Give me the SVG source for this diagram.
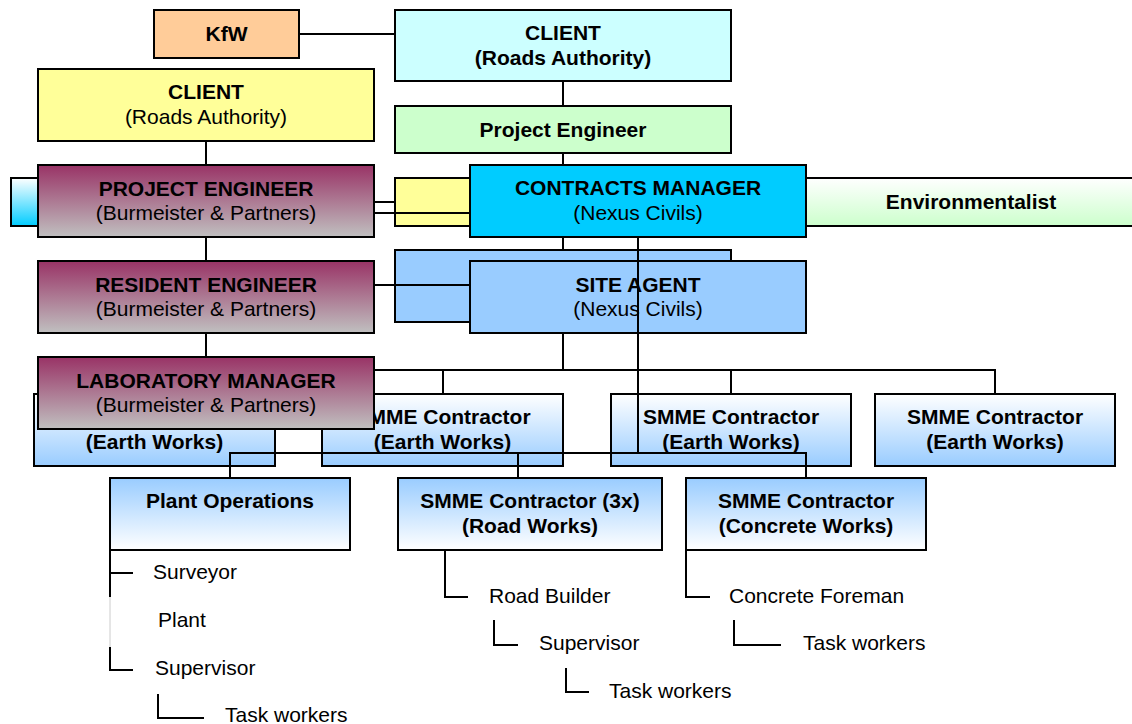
<svg xmlns="http://www.w3.org/2000/svg" width="1132" height="724" viewBox="0 0 1132 724">
<defs>
<linearGradient id="gBurm" x1="0" y1="0" x2="0" y2="1"><stop offset="0" stop-color="#993366"/><stop offset="1" stop-color="#C0C0C0"/></linearGradient>
<linearGradient id="gCyan" x1="0" y1="0" x2="0" y2="1"><stop offset="0" stop-color="#FFFFFF"/><stop offset="1" stop-color="#00CCFF"/></linearGradient>
<linearGradient id="gEnv" x1="0" y1="0" x2="0" y2="1"><stop offset="0" stop-color="#FFFFFF"/><stop offset="1" stop-color="#CCFFCC"/></linearGradient>
<linearGradient id="gSmme" x1="0" y1="0" x2="0" y2="1"><stop offset="0" stop-color="#FFFFFF"/><stop offset="1" stop-color="#99CCFF"/></linearGradient>
<linearGradient id="gSmmeRev" x1="0" y1="0" x2="0" y2="1"><stop offset="0" stop-color="#99CCFF"/><stop offset="1" stop-color="#FFFFFF"/></linearGradient>
</defs>
<style>
rect{stroke:#000;stroke-width:2}
text{font-family:"Liberation Sans",Arial,sans-serif;font-size:21px;fill:#000}
.b{font-weight:bold;text-anchor:middle}
.r{text-anchor:middle}
.l{text-anchor:start}
#connectors path{fill:none;stroke:#000;stroke-width:2}
</style>
<rect x="0" y="0" width="1132" height="724" fill="#fff" style="stroke:none"/>
<g id="left-stub"><rect x="11" y="178" width="40" height="48" fill="url(#gCyan)"/></g>
<g id="yellow-behind"><rect x="395" y="178" width="336" height="48" fill="#FFFF99"/></g>
<g id="environmentalist"><rect x="806" y="178" width="340" height="48" fill="url(#gEnv)"/><text class="b" x="971" y="209">Environmentalist</text></g>
<g id="contracts-manager"><rect x="470" y="165" width="336" height="72" fill="#00CCFF"/><text class="b" x="638" y="195">CONTRACTS MANAGER</text><text class="r" x="638" y="220">(Nexus Civils)</text></g>
<g id="kfw"><rect x="154" y="10" width="145" height="48" fill="#FFCC99"/><text class="b" x="226.5" y="41">KfW</text></g>
<g id="client-right"><rect x="395" y="10" width="336" height="71" fill="#CCFFFF"/><text class="b" x="563" y="40">CLIENT</text><text class="b" x="563" y="65">(Roads Authority)</text></g>
<g id="project-engineer-right"><rect x="395" y="106" width="336" height="47" fill="#CCFFCC"/><text class="b" x="563" y="137">Project Engineer</text></g>
<g id="client-left"><rect x="38" y="69" width="336" height="72" fill="#FFFF99"/><text class="b" x="206" y="99">CLIENT</text><text class="r" x="206" y="124">(Roads Authority)</text></g>
<g id="project-engineer"><rect x="38" y="165" width="336" height="72" fill="url(#gBurm)"/><text class="b" x="206" y="196">PROJECT ENGINEER</text><text class="r" x="206" y="220">(Burmeister &amp; Partners)</text></g>
<g id="blue-behind"><rect x="395" y="250" width="336" height="72" fill="#99CCFF"/></g>
<g id="site-agent"><rect x="470" y="261" width="336" height="72" fill="#99CCFF"/><text class="b" x="638" y="292">SITE AGENT</text><text class="r" x="638" y="316">(Nexus Civils)</text></g>
<g id="resident-engineer"><rect x="38" y="261" width="336" height="72" fill="url(#gBurm)"/><text class="b" x="206" y="292">RESIDENT ENGINEER</text><text class="r" x="206" y="316">(Burmeister &amp; Partners)</text></g>
<g id="smme-earth-1"><rect x="34" y="394" width="241" height="72" fill="url(#gSmme)"/><text class="b" x="154.5" y="449">(Earth Works)</text></g>
<g id="smme-earth-2"><rect x="322" y="394" width="241" height="72" fill="url(#gSmme)"/><text class="b" x="442.5" y="424">SMME Contractor</text><text class="b" x="442.5" y="449">(Earth Works)</text></g>
<g id="smme-earth-3"><rect x="611" y="394" width="240" height="72" fill="url(#gSmme)"/><text class="b" x="731" y="424">SMME Contractor</text><text class="b" x="731" y="449">(Earth Works)</text></g>
<g id="smme-earth-4"><rect x="875" y="394" width="240" height="72" fill="url(#gSmme)"/><text class="b" x="995" y="424">SMME Contractor</text><text class="b" x="995" y="449">(Earth Works)</text></g>
<g id="laboratory-manager"><rect x="38" y="357" width="336" height="72" fill="url(#gBurm)"/><text class="b" x="206" y="388">LABORATORY MANAGER</text><text class="r" x="206" y="412">(Burmeister &amp; Partners)</text></g>
<g id="plant-operations"><rect x="110" y="478" width="240" height="72" fill="url(#gSmmeRev)"/><text class="b" x="230" y="508">Plant Operations</text></g>
<g id="smme-road"><rect x="398" y="478" width="264" height="72" fill="url(#gSmmeRev)"/><text class="b" x="530" y="508">SMME Contractor (3x)</text><text class="b" x="530" y="533">(Road Works)</text></g>
<g id="smme-concrete"><rect x="686" y="478" width="240" height="72" fill="url(#gSmmeRev)"/><text class="b" x="806" y="508">SMME Contractor</text><text class="b" x="806" y="533">(Concrete Works)</text></g>
<g id="leaf-surveyor"><text class="l" x="153" y="579">Surveyor</text></g>
<g id="leaf-plant"><text class="l" x="158" y="627">Plant</text></g>
<g id="leaf-supervisor-1"><text class="l" x="155" y="675">Supervisor</text></g>
<g id="leaf-task-1"><text class="l" x="225" y="722">Task workers</text></g>
<g id="leaf-road-builder"><text class="l" x="489" y="603">Road Builder</text></g>
<g id="leaf-supervisor-2"><text class="l" x="539" y="650">Supervisor</text></g>
<g id="leaf-task-2"><text class="l" x="609" y="698">Task workers</text></g>
<g id="leaf-concrete-foreman"><text class="l" x="729" y="603">Concrete Foreman</text></g>
<g id="leaf-task-3"><text class="l" x="803" y="650">Task workers</text></g>
<g id="connectors">
<path d="M299 34H395"/>
<path d="M563 81V106M563 153V165M563 237V250M563 333V370"/>
<path d="M206 141V165M206 237V261M206 333V357"/>
<path d="M374 202H395M374 213H470M374 285H470"/>
<path d="M374 370H995V394M443 370V394M731 370V394"/>
<path d="M638 237V453"/>
<path d="M230 478V453H806V478M518 453V478"/>
<path d="M110 550V597M110 647V670H133M110 573H133"/>
<path d="M110 597V647" style="stroke:#cccccc;stroke-width:1"/>
<path d="M158 694V718H204"/>
<path d="M445 550V597H468M494 620V645H518M566 668V692H589"/>
<path d="M686 550V597H710M734 620V645H781"/>
</g>
</svg>
